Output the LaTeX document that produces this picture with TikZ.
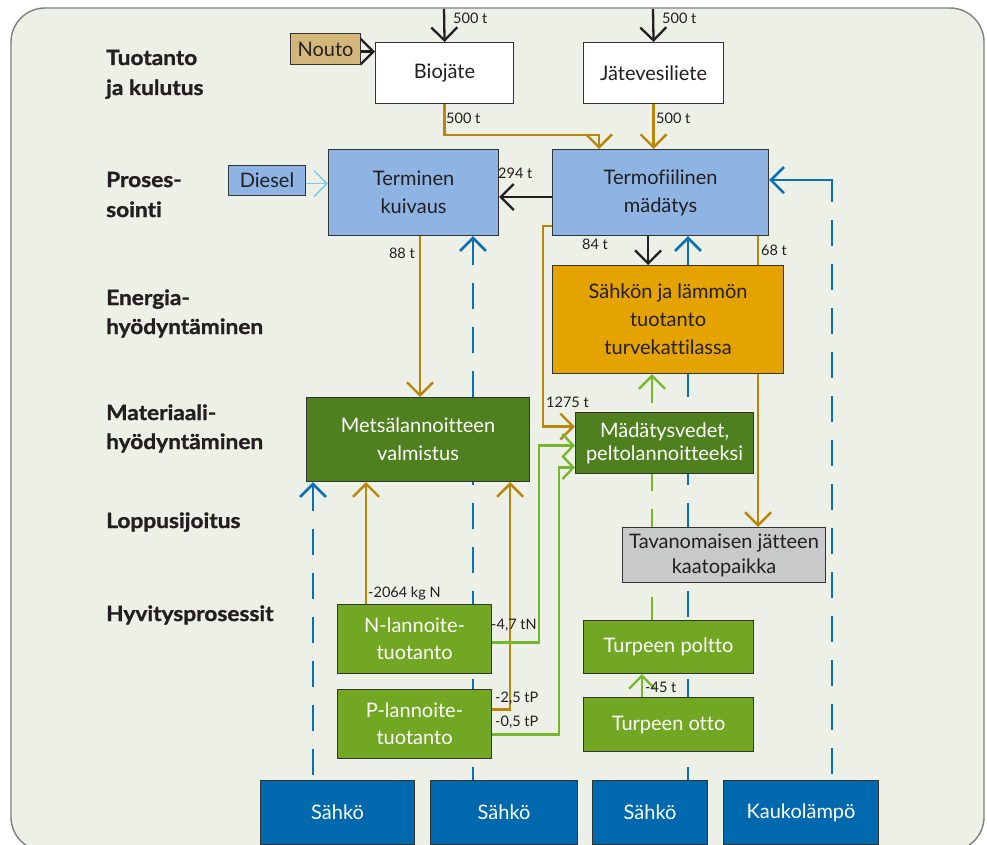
\documentclass[tikz,border=0pt]{standalone}
\usepackage{fontspec}
\setmainfont{Lato}[Ligatures=NoCommon]
\newfontfamily\stagefamily{Lato}[FakeStretch=1.08,FakeBold=1.2,Ligatures=NoCommon]
\usetikzlibrary{arrows.meta,calc}

\definecolor{panelbg}{HTML}{EDF0E6}
\definecolor{panelline}{HTML}{808080}
\definecolor{boxline}{HTML}{333333}
\definecolor{inkdark}{HTML}{231F20}
\definecolor{tanfill}{HTML}{D3B67A}
\definecolor{bluefill}{HTML}{8DB4E2}
\definecolor{amberfill}{HTML}{E5A300}
\definecolor{darkgreen}{HTML}{4F801F}
\definecolor{lightgreen}{HTML}{71A722}
\definecolor{grayfill}{HTML}{C8C9CB}
\definecolor{deepblue}{HTML}{0069AE}
\definecolor{brownline}{HTML}{B8860B}
\definecolor{blueline}{HTML}{0B6FB5}
\definecolor{greenline}{HTML}{77B72E}
\definecolor{cyanline}{HTML}{7CCBE6}

\newcommand\boxfont{\fontsize{20}{28}\selectfont}
\newcommand\qtyfont{\fontsize{14.5}{16}\selectfont}
\newcommand\stagefont{\stagefamily\bfseries\fontsize{21}{30}\selectfont}

\pgfdeclarelayer{panel}
\pgfdeclarelayer{links}
\pgfsetlayers{panel,links,main}

\begin{document}
\begin{tikzpicture}[x=1pt,y=-1pt,
  box/.style={draw=boxline,line width=1.1pt,anchor=north west,align=center,
    inner sep=2pt,font=\boxfont,text=inkdark},
  lightbox/.style={box,text=white},
  qty/.style={font=\qtyfont,text=inkdark,inner sep=0pt},
  stage/.style={font=\stagefont,text=inkdark,anchor=base west,inner sep=0pt},
  tipbig/.style={-{Straight Barb[length=13pt,width=26pt]}},
  tipback/.style={{Straight Barb[length=13pt,width=26pt]}-},
  tipsmall/.style={-{Straight Barb[length=11pt,width=23pt]}},
  blackflow/.style={draw=inkdark,line width=2.3pt,tipbig},
  brownflow/.style={draw=brownline,line width=2.4pt,tipbig},
  greenflow/.style={draw=greenline,line width=2.3pt,tipsmall},
  dashes/.style={dash pattern=on 26pt off 18pt},
  greendash/.style={draw=greenline,line width=2.4pt,tipback,dashes},
  bluedash/.style={draw=blueline,line width=2.6pt,tipback,dashes},
  bluesolid/.style={draw=blueline,line width=2.6pt,tipback},
  cyanflow/.style={draw=cyanline,line width=1.5pt,tipbig},
]
\useasboundingbox (0,0) rectangle (987,845);

% panel
\begin{pgfonlayer}{panel}
  \fill[white] (0,0) rectangle (987,845);
  \draw[fill=panelbg,draw=panelline,line width=1.4pt,rounded corners=34pt]
    (11,8) rectangle (984,851);
\end{pgfonlayer}

% stage labels
\node[stage] (st1a) at (106,65) {Tuotanto};
\node[stage] (st1b) at (106,95) {ja kulutus};
\node[stage] (st2a) at (106,187) {Proses-};
\node[stage] (st2b) at (106,217) {sointi};
\node[stage] (st3a) at (106,305) {Energia-};
\node[stage] (st3b) at (106,334) {hyödyntäminen};
\node[stage] (st4a) at (106,420) {Materiaali-};
\node[stage] (st4b) at (106,449) {hyödyntäminen};
\node[stage] (st5) at (106,528) {Loppusijoitus};
\node[stage] (st6) at (106,621) {Hyvitysprosessit};

% process boxes
\node[box,fill=tanfill,minimum width=70pt,minimum height=31pt,inner sep=0pt] (nouto) at (290,33) {Nouto};
\node[box,fill=white,minimum width=138pt,minimum height=61pt] (bio) at (375,42) {Biojäte};
\node[box,fill=white,minimum width=140pt,minimum height=61pt] (jate) at (583,42) {Jätevesiliete};
\node[box,fill=bluefill,minimum width=77pt,minimum height=30pt,inner sep=0pt] (diesel) at (228,165) {Diesel};
\node[box,fill=bluefill,minimum width=170pt,minimum height=86pt] (term) at (328,149) {Terminen\\kuivaus};
\node[box,fill=bluefill,minimum width=216pt,minimum height=86pt] (termo) at (552,149) {Termofiilinen\\mädätys};
\node[box,fill=amberfill,minimum width=231pt,minimum height=108pt] (sahkon) at (552,265) {Sähkön ja lämmön\\tuotanto\\turvekattilassa};
\node[lightbox,fill=darkgreen,minimum width=223pt,minimum height=84pt] (metsa) at (306,397) {Metsälannoitteen\\valmistus};
\node[lightbox,fill=darkgreen,minimum width=178pt,minimum height=61pt,font=\fontsize{20}{23}\selectfont] (madat) at (575,412) {Mädätysvedet,\\peltolannoitteeksi};
\node[box,fill=grayfill,minimum width=203pt,minimum height=55pt,font=\fontsize{20}{25}\selectfont] (tava) at (622,527) {Tavanomaisen jätteen\\kaatopaikka};
\node[lightbox,fill=lightgreen,minimum width=154pt,minimum height=69pt,font=\fontsize{20}{27}\selectfont] (nlan) at (337,604) {N-lannoite-\\tuotanto};
\node[lightbox,fill=lightgreen,minimum width=154pt,minimum height=69pt,font=\fontsize{20}{27}\selectfont] (plan) at (337,689) {P-lannoite-\\tuotanto};
\node[lightbox,fill=lightgreen,minimum width=170pt,minimum height=53pt] (tpol) at (583,620) {Turpeen poltto};
\node[lightbox,fill=lightgreen,minimum width=170pt,minimum height=54pt] (totto) at (583,697) {Turpeen otto};
\node[lightbox,fill=deepblue,minimum width=154pt,minimum height=64pt] (s1) at (260,780) {Sähkö};
\node[lightbox,fill=deepblue,minimum width=147pt,minimum height=64pt] (s2) at (430,780) {Sähkö};
\node[lightbox,fill=deepblue,minimum width=115pt,minimum height=64pt] (s3) at (592,780) {Sähkö};
\node[lightbox,fill=deepblue,minimum width=155pt,minimum height=64pt] (kauko) at (723,780) {Kaukolämpö};

% free ends of the two incoming flows, and helper positions
\coordinate (inbio) at (444,9);
\coordinate (injate) at (653,9);
\coordinate (xmetsa) at (420,0);
\coordinate (heatsolid) at ([xshift=109pt]kauko.north west |- 0,202);

\begin{pgfonlayer}{links}
  % black flows
  \draw[blackflow] (inbio) -- (bio.north);
  \draw[blackflow] (injate) -- (jate.north);
  \draw[blackflow] ([yshift=-2.5pt]nouto.east) -- ([yshift=-2.5pt]nouto.east -| bio.west);
  \draw[blackflow] ([yshift=-4.5pt]termo.west) -- ([yshift=-4.5pt]termo.west -| term.east);
  \draw[blackflow] ([xshift=96pt]termo.south west) -- ([xshift=96pt]termo.south west |- sahkon.north);
  % diesel
  \draw[cyanflow] ([yshift=-3pt]diesel.east) -- ([yshift=-3pt]diesel.east -| term.west);
  % brown mass flows
  \draw[brownflow] (bio.south) -- ++(0,31) -| ([xshift=47pt]termo.north west);
  \draw[brownflow] (jate.south) -- (jate.south |- termo.north);
  \draw[brownflow] (term.south -| xmetsa) -- (metsa.north -| xmetsa);
  \draw[brownflow] ([yshift=-33.5pt]termo.west) -- ++(-9,0) |- ([yshift=16.5pt]madat.west);
  \draw[brownflow] ([xshift=-11pt]termo.south east) -- ([xshift=-11pt]termo.south east |- tava.north);
  \draw[brownflow] ([xshift=29pt]nlan.north west) -- ([xshift=29pt]nlan.north west |- metsa.south);
  \draw[brownflow] ([yshift=14.5pt]plan.east) -| ([xshift=-20pt]metsa.south east);
  % green credit flows
  \draw[greenflow] ([yshift=-3.5pt]nlan.east) -- ++(47,0) |- ([yshift=-2.5pt]madat.west);
  \draw[greenflow] ([yshift=-10.5pt]plan.east) -- ++(67,0) |- ([yshift=-24.5pt]madat.west);
  \draw[greenflow,tipbig] ([xshift=59pt]totto.north west) -- ([xshift=59pt]totto.north west |- tpol.south);
  \draw[greendash] ([xshift=69pt]tpol.north west |- sahkon.south) -- ([xshift=69pt]tpol.north west);
  % energy supply (dashes start at the arrow end)
  \draw[bluedash] ([xshift=53pt]s1.north west |- metsa.south) -- ([xshift=53pt]s1.north west);
  \draw[bluedash] ([xshift=43pt]s2.north west |- term.south) -- ([xshift=43pt]s2.north west);
  \draw[bluedash] ([xshift=96pt]s3.north west |- termo.south) -- ([xshift=96pt]s3.north west);
  \draw[bluesolid] ([yshift=12.5pt]termo.east) -| (heatsolid);
  \draw[bluedash,-] ([yshift=-18pt]heatsolid) -- ([xshift=109pt]kauko.north west);
\end{pgfonlayer}

% quantities
\node[qty,anchor=west] (q1) at (453,18) {500 t};
\node[qty,anchor=west] (q2) at (662,18) {500 t};
\node[qty,anchor=west] (q3) at (446,118) {500 t};
\node[qty,anchor=west] (q4) at (656,118) {500 t};
\node[qty,anchor=west] (q5) at (498,173) {294 t};
\node[qty,anchor=east] (q6) at (415,253) {88 t};
\node[qty,anchor=west] (q7) at (582,244) {84 t};
\node[qty,anchor=west] (q8) at (761,250) {68 t};
\node[qty,anchor=west] (q9) at (546,402) {1275 t};
\node[qty,anchor=west] (q10) at (368,593) {-2064 kg N};
\node[qty,anchor=west] (q11) at (491,625) {-4,7 tN};
\node[qty,anchor=west] (q12) at (495,698) {-2,5 tP};
\node[qty,anchor=west] (q13) at (495,722) {-0,5 tP};
\node[qty,anchor=west] (q14) at (645,687) {-45 t};
\end{tikzpicture}
\end{document}
